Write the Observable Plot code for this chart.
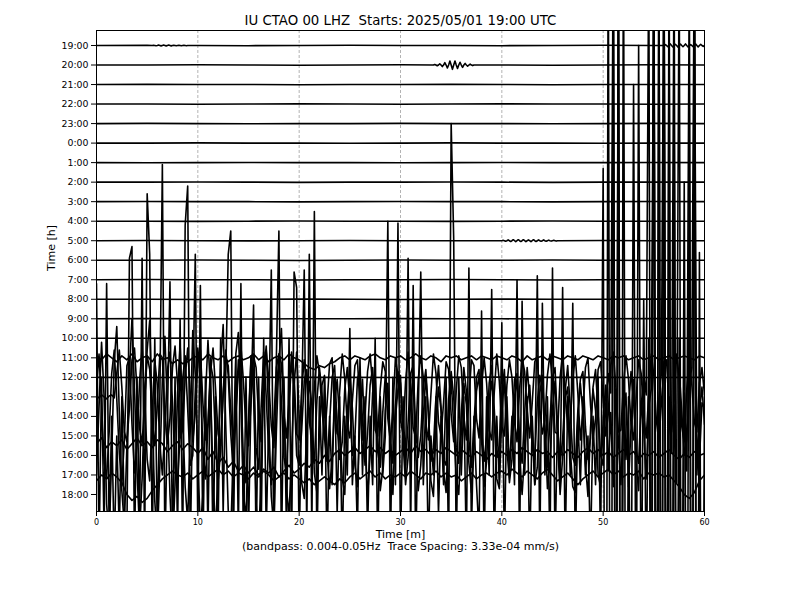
<!DOCTYPE html>
<html><head><meta charset="utf-8">
<script src="https://cdn.jsdelivr.net/npm/d3@7"></script>
<script src="https://cdn.jsdelivr.net/npm/@observablehq/plot@0.6"></script>
<style>body{margin:0;background:#fff}</style>
</head><body><div id="chart"></div>
<script>
// ---- labels ----
const titleText = ["IU CTAO 00 LHZ  Starts: 2025/05/01 19:00 UTC"];
const xLabel = ["Time [m]"];
const yLabel = ["Time [h]"];
const caption = ["(bandpass: 0.004-0.05Hz  Trace Spacing: 3.33e-04 mm/s)"];
const hourLabels = ["19:00","20:00","21:00","22:00","23:00","0:00","1:00","2:00","3:00","4:00","5:00","6:00",
  "7:00","8:00","9:00","10:00","11:00","12:00","13:00","14:00","15:00","16:00","17:00","18:00"];
const minuteTicks = [0,10,20,30,40,50,60];
const gridMinutes = [10,20,30,40,50];

// ---- amplitudes in units of trace spacing (positive = up) ----
// quiet hours, one value every 5 min
const quietHours = ["19:00","20:00","21:00","22:00","23:00","0:00","1:00","2:00","3:00","4:00","5:00","6:00",
  "7:00","8:00","9:00","10:00","12:00"];
const quietValues = [
  [0,.01,0,-.01,0,.01,0,0,-.01,0,.01,0,0],
  [0,0,.01,0,-.01,0,.01,0,0,-.01,0,.01,0],
  [0,.01,0,0,-.01,0,0,.01,0,-.01,0,0,0],
  [0,0,-.01,0,.01,0,-.01,0,.01,0,0,-.01,0],
  [0,.01,0,-.01,0,0,.01,0,0,-.01,0,.01,0],
  [0,0,.01,0,0,-.01,0,.01,0,0,-.01,0,0],
  [0,-.01,0,.01,0,0,-.01,0,.01,0,0,.01,0],
  [0,0,.01,0,-.01,0,0,.01,0,-.01,0,0,0],
  [0,.01,0,0,-.01,0,.01,0,0,-.01,0,.01,0],
  [0,0,-.01,0,.01,0,0,-.01,0,.01,0,0,0],
  [0,.01,0,-.01,0,.01,0,0,-.01,0,.01,0,0],
  [0,0,.01,0,-.01,0,.01,0,0,.01,0,-.01,0],
  [0,.01,0,0,-.01,0,0,.01,0,-.01,0,0,0],
  [0,0,-.01,0,.01,0,-.01,0,.01,0,0,.01,0],
  [0,.01,0,-.01,0,0,.01,0,0,-.01,0,.01,0],
  [0,0,.01,0,0,-.01,0,.01,0,0,-.01,0,0],
  [0,-.01,0,.01,0,0,-.01,0,.01,0,0,-.01,0]
];
// small wavetrains on quiet hours, one value every 0.125 min
const wiggle1900aStart = 5.5;
const wiggle1900a = [0,.015,0,-.015,0,.02,0,-.02,0,.02,0,-.02,0,.02,0,-.02,0,.015,0,-.015,0,.015,0,-.015,0,.01,0,-.01,0];
const wiggle1900bStart = 56;
const wiggle1900b = [0,.05,0,-.06,0,.08,0,-.07,0,.06,0,-.08,0,.07,0,-.06,0,.08,0,-.07,0,.05,0,-.06,0,.08,0,-.07,0,.06,0,-.05,0];
const wiggle2000Start = 33.25;
const wiggle2000 = [0,.03,0,-.04,0,.06,0,-.08,0,.12,0,-.15,0,.2,0,-.22,0,.2,0,-.18,0,.14,0,-.12,0,.08,0,-.06,0,.05,0,-.03,0];
const wiggle0500Start = 40;
const wiggle0500 = [0,.02,0,-.03,0,.04,0,-.04,0,.05,0,-.05,0,.05,0,-.04,0,.05,0,-.05,0,.04,0,-.05,0,.05,0,-.04,0,.04,0,-.03,0,.04,0,-.03,0,.03,0,-.02,0,.02,0,-.02,0];

// active hours, one value every 0.5 min
const trace1100 = [0.1,-0.1,0.2,0,-0.2,0.1,-0.1,0.2,-0.2,0,
  0.1,-0.2,0.2,-0.1,0,-0.3,-0.1,-0.3,-0.2,0,
  0.1,-0.1,0.2,0,-0.1,0.1,-0.2,0,0.1,-0.1,
  0,0.2,-0.1,0.1,-0.2,0,0.1,-0.1,0.2,0,
  -0.1,-0.3,-0.5,-0.6,-0.4,-0.5,-0.3,-0.2,0,0.1,
  -0.1,0.1,0,-0.1,0.1,0.2,0,-0.1,0.1,0,
  0.1,-0.1,0,0.2,0,-0.1,0.1,0,-0.2,0.1,
  0,0.1,-0.1,0,0.1,-0.1,0.1,0,-0.1,0.1,
  0,-0.1,0.1,0,-0.2,0.1,-0.1,0,0.1,-0.1,
  0.1,0,-0.1,0.1,0,-0.1,0.1,0,-0.1,0.1,
  0,-0.1,0.1,0,0.1,-0.1,0,0.1,-0.1,0,
  0.1,-0.1,0,0.1,-0.1,0,0.1,0,-0.1,0.1,
  0];
const trace1600 = [0.6,0.9,0.4,0.7,0.5,0.8,0.3,0.6,0.9,0.5,
  0.7,0.4,0.8,0.6,0.2,0.5,0.7,0.3,0.6,0.4,
  0.1,0.4,-0.2,0.2,-0.4,-0.1,-0.6,-0.3,-0.8,-0.5,
  -0.9,-0.6,-1.0,-0.7,-0.9,-0.6,-1.1,-0.8,-0.5,-0.9,
  -0.7,-0.4,-0.6,-0.2,-0.4,0,-0.3,0.1,0.3,0,
  0.2,0.4,0.1,0.3,0.5,0.2,0.4,0.1,0.3,0,
  0.2,0.4,0.1,0.5,0.2,0.3,0,0.3,0.1,0.4,
  0.2,0,0.3,0.1,-0.1,0.2,0,-0.2,0.1,-0.1,
  0.2,0,0.3,0.1,0.4,0.2,0,0.3,0.1,0.2,
  -0.1,0.2,0,0.3,0.1,-0.1,0.2,0.4,0.1,0.3,
  0,0.2,-0.1,0.1,0.3,0,0.2,-0.2,0.1,0,
  0.2,-0.1,0.1,0.3,0,-0.2,0.1,-0.1,0.2,0,
  0.1];
const trace1700 = [-0.3,0,-0.2,0.1,-0.1,-0.4,-1.0,-1.3,-1.1,-1.4,
  -1.2,-0.8,-0.5,-0.2,0,0.2,0,-0.1,0.1,-0.2,
  0,0.2,-0.1,0.1,0.3,0,0.2,-0.1,0.1,0,
  -0.2,0.1,-0.1,0.2,0,-0.3,-0.1,0.1,-0.2,0,
  -0.2,-0.4,-0.2,-0.5,-0.3,-0.1,-0.3,-0.5,-0.2,-0.4,
  -0.1,0.1,-0.2,0,0.2,-0.1,0.1,-0.2,0,-0.1,
  0.1,-0.1,0.2,0,-0.2,0.1,0,0.2,-0.1,0.1,
  -0.1,0,-0.3,-0.1,0.1,-0.2,0,0.1,-0.1,0.1,
  0.2,0,0.3,0.1,-0.1,0.2,0,-0.2,0.1,0.3,
  0,-0.3,-0.1,0.1,-0.2,-0.5,-0.2,0,0.2,-0.1,
  0.1,0.3,0,0.2,-0.1,0.1,0,0.2,-0.2,0.1,
  0,0.1,-0.1,0,-0.3,-0.6,-1.0,-1.2,-0.9,-0.3,
  0];
// strongest hours, one value every 0.25 min
const trace1300 = [0.05,-0.05,0.1,0, -0.1,0.05,0.1,-0.05, 1.2,2.4,0.5,-1.8, -2.3,-0.6,1.9,2.5, 0.3,-1.6,-2.4,-0.2,
  2.1,1.4,-1.2,-2.5, -0.4,2.2,2.0,-0.9, -2.4,-1.1,1.5,2.6, 0.6,-2.1,-1.7,1.0, 2.5,0.2,-2.3,-0.8,
  1.8,2.4,-0.3,-2.2, -1.4,1.2,2.5,0.4, -1.9,-2.5,0.1,2.0, 1.6,-0.7,-2.4,-1.0, 1.3,2.6,0.8,-1.6,
  -2.5,-0.3,2.1,1.5, -1.1,-2.3,0.6,2.4, 0.9,-1.5,-2.6,0.0, 2.2,1.7,-0.9,-2.1, -0.2,2.3,1.1,-1.9,
  -2.2,0.4,1.9,0.8, -1.3,-2.0,0.5,2.1, 1.2,-0.6,-2.2,-0.4, 1.7,2.0,-0.8,-1.9, 0.3,2.2,0.9,-1.5,
  -2.1,-0.2,1.6,1.9, -0.5,-2.2,-1.0,1.3, 2.2,0.6,-1.7,-2.0, 0.4,1.8,1.3,-1.1, -2.3,-0.7,2.0,1.1,
  -1.2,-1.9,0.8,2.3, 0.2,-1.6,-2.1,0.9, 2.1,1.0,-1.4,-2.2, 0.1,2.2,1.2,-1.3, -2.0,-0.3,1.8,1.4,
  -0.9,-2.3,0.3,2.1, 1.5,-1.0,-2.2,-0.1, 1.9,1.6,-1.1,-2.1, 0.5,2.0,0.7,-1.7, -2.2,0.2,2.2,0.8,
  -1.5,-2.0,0.6,1.9, 1.0,-1.3,-2.3,0.4, 2.0,1.3,-0.7,-2.1, -0.3,1.8,2.1,-0.6, -1.9,-1.2,1.1,2.2,
  0.7,-1.8,-1.9,1.0, 2.2,0.3,-1.6,-1.3, 0.9,2.1,0.2,-2.2, -0.8,1.5,2.0,-0.4, -2.1,-1.1,1.4,1.8,
  -0.2,-2.0,-0.9,1.6, 2.3,0.5,-1.8,-1.7, 0.6,2.1,0.9,-1.4, -2.2,-0.1,1.9,1.2, -1.0,-2.1,0.2,2.2,
  1.1,-1.2,-2.3,-0.3, 1.8,1.9,-0.5,-1.8, -0.2,2.2,1.0,-1.5, -2.3,0.4,2.1,0.6, -1.3,-1.8,0.7,1.5,
  0.1];
const trace1400 = [1.5,3.2,0.6,-2.4, -3.1,-0.8,2.2,3.4, 0.9,-1.9,-3.5,-1.2, 2.6,3.0,-0.4,-2.9, -1.5,1.8,3.5,1.1,
  -2.2,-3.3,0.2,2.9, 1.6,-1.4,-3.0,-0.6, 2.4,3.3,0.7,-2.6, -3.4,-1.0,1.9,3.1, 0.4,-2.5,-2.0,1.3,
  3.5,1.9,-1.7,-3.2, -0.5,2.7,2.0,-1.3, -3.3,-1.8,1.2,3.4, 2.1,-0.9,-2.8,0.1, 2.9,1.4,-2.3,-3.4,
  -0.2,3.1,2.3,-1.6, -2.7,0.5,3.3,1.0, -1.9,-3.5,-0.3,2.5, 3.2,0.8,-2.1,-2.9, 0.6,2.8,1.5,-2.0,
  -2.5,-0.7,1.8,2.4, 0.3,-1.9,-2.4,0.8, 2.5,1.2,-1.1,-2.3, -0.4,2.0,2.6,-0.5, -2.2,-1.3,1.4,2.5,
  0.7,-2.0,-1.1,1.9, 2.4,-0.2,-2.5,-0.9, 1.6,2.5,0.3,-1.8, -2.6,0.2,2.1,1.1, -1.4,-2.4,0.6,2.3,
  1.7,-0.9,-2.5,-0.3, 2.2,2.6,-0.7,-2.1, -1.0,1.5,2.4,0.2, -2.3,-1.6,1.0,2.6, 0.5,-2.2,-2.5,0.9,
  2.3,1.0,-1.6,-2.4, 0.1,2.5,1.3,-1.2, -2.6,-0.4,2.0,2.4, -0.7,-2.3,-1.0,1.7, 2.6,0.4,-2.1,-1.5,
  1.2,2.4,-0.5,-2.5, -0.8,1.9,2.2,-1.3, -2.4,0.1,2.5,0.9, -1.6,-2.2,0.7,2.1, 1.4,-1.0,-2.6,-0.2,
  2.0,2.5,-0.6,-2.3, -1.2,1.3,2.6,0.4, -2.1,-2.5,0.3,1.9, 2.3,-0.5,-2.2,-1.1, 1.5,2.4,0.1,-2.0,
  -2.5,0.6,2.2,1.2, 25,-24,26,-25, 1.8,-2.2,0.4,2.3, 0.8,-1.7,-2.4,0.5, 2.1,1.1,24,-25,
  26,-24,0.9,2.2, 25,-26,1.0,-1.9, 24,-25,2.4,0.3, -2.0,-1.2,1.6,2.5, 25,-24,-2.3,0.7,
  0.4];
const trace1500 = [-2.0,1.5,4.8,2.0, -3.5,-5.2,-1.0,3.8, 5.6,1.2,-2.8,-4.6, -0.5,3.2,6.0,2.4, -1.8,-4.9,-2.2,1.7,
  4.4,5.9,0.8,-3.3, -5.5,-1.6,2.9,5.1, 1.4,-3.0,-5.8,-2.5, 2.2,4.7,1.0,-2.6, -4.4,0.3,5.4,3.1,
  -1.2,-4.8,-3.0,1.9, 4.9,2.3,-2.1,-5.1, -1.4,3.6,5.7,0.6, -3.8,-5.0,-0.7,4.2, 5.3,1.8,-2.9,-4.3,
  0.4,4.0,2.1,-3.4, -5.4,-1.9,3.3,4.6, 0.9,-3.1,-4.7,0.2, 3.9,5.5,1.3,-2.7, -4.1,-0.8,2.6,4.3,
  1.0,-2.4,-3.2,0.5, 2.8,1.6,-1.9,-2.9, 0.2,2.6,3.1,-0.8, -2.7,-1.2,1.7,2.9, 0.6,-2.2,-3.0,1.1,
  3.2,1.4,-1.5,-2.6, 0.8,2.9,-0.4,-3.1, -1.0,2.2,3.0,0.1, -2.8,-1.7,1.3,2.7, -0.6,-3.0,0.9,2.4,
  3.1,-0.3,-2.5,-1.1, 1.8,2.9,-0.9,-2.8, -1.5,1.0,3.0,1.2, -2.3,-3.1,0.4,2.5, 1.3,-1.8,-2.9,0.7,
  2.9,0.5,-2.1,-3.0, 0.2,2.7,1.6,-1.4, -2.9,-0.7,2.3,3.1, -0.2,-2.6,-1.3,1.9, 2.8,0.9,-2.2,-2.7,
  1.1,3.0,-0.6,-2.4, -1.2,2.0,2.9,-1.0, -3.0,-0.9,1.6,2.6, 0.3,-2.5,-1.6,2.2, 3.1,0.6,-2.7,-1.3,
  1.4,2.8,-0.2,-3.0, -1.1,1.9,2.5,-0.7, -2.6,-2.9,0.8,2.7, 1.2,-1.4,-3.1,0.4, 2.4,1.3,-2.0,-2.6,
  0.9,2.6,-1.8,1.2, -2.6,2.4,-0.2,-2.5, 1.0,2.2,-2.6,0.5, 2.9,-1.4,-2.8,1.8, 0.3,-2.2,1.5,2.4,
  24,-26,25,-24, 26,-25,22,-20, 1.6,-2.4,25,-24, 2.2,-1.8,24,-26, 23,-2.0,1.2,2.5,
  0.6];
const trace1800 = [10.8,-3,6,-2, 10.8,-2,4,-3, 3,-2,5,-1, -2,12.1,12.7,-3, 6,-2,12.1,-3,
  15.4,12.3,-3,8, -2,5,16.9,-3, 4,10.9,-3,6, -2,9,-3,13.8, 15.8,-3,5,12.3,
  -2,10.7,-3,6, -2,7,-3,5, -2,8,-1,6, 12.3,13.5,-3,7, -2,10.8,-3,6,
  -2,5,9.7,-3, 6,-2,8,-2, 4,11.5,-3,7, 13.5,-3,6,-2, 8,-3,11.4,10.6,
  -3,5,11.5,-2, 12.3,-2,14.5,-3, 5,1,6,-3, 4,0.5,6,-1, 5,-3,4,1,
  8.5,0.5,3,-2, 7,1,5,-2, 4,0.5,8,-3, 5,1,3,14.0, -3,6,0.5,13.9,
  -3,5,1,12.1, -2,10.7,-3,4, 11.4,0.5,5,-3, 3,1,5,-1, 4,0.5,6,-3,
  19.0,13.1,-3,6, 1,5,-3,11.6, -2,4,0.5,-2, 9.4,-3,5,1, 10.5,-3,4,0.5,
  8.8,-3,5,1, 4,0.5,11.0,-3, 9.9,1,5,-3, 4,0.5,11.2,-3, 9.8,1,5,-3,
  11.6,-3,4,0.5, 10.6,-3,5,1, 9.8,-3,4,0.5, 5,1,3,-3, 4,0.5,6,-3,
  16.7,-30,30,-30, 30,-30,30,-30, 30,-20,5,-10, 21,-10,23,-8, 10,-5,8,-10,
  30,-30,30,-30, 30,-30,30,-25, 19.5,-20,8,-15, 16,-20,19.8,-30, 30,-30,12.4,-20,
  5];

// ---- assemble points (time in minutes, row index) ----
const rowOf = h => hourLabels.indexOf(h);
function samples(hour, start, step, values) {
  return values.map((v, i) => ({hour, row: rowOf(hour), t: start + i * step, v}));
}
function withEvents(base, events) {
  let pts = base;
  for (const [start, step, values] of events) {
    const end = start + step * (values.length - 1);
    pts = pts.filter(p => p.t < start || p.t > end).concat(samples(base[0].hour, start, step, values));
  }
  return pts.sort((a, b) => a.t - b.t);
}
const eventsByHour = {
  "19:00": [[wiggle1900aStart, 0.125, wiggle1900a], [wiggle1900bStart, 0.125, wiggle1900b]],
  "20:00": [[wiggle2000Start, 0.125, wiggle2000]],
  "5:00": [[wiggle0500Start, 0.125, wiggle0500]]
};
let points = [];
quietHours.forEach((h, k) => {
  points = points.concat(withEvents(samples(h, 0, 5, quietValues[k]), eventsByHour[h] || []));
});
points = points.concat(
  samples("11:00", 0, 0.5, trace1100),
  samples("16:00", 0, 0.5, trace1600),
  samples("17:00", 0, 0.5, trace1700),
  samples("13:00", 0, 0.25, trace1300),
  samples("14:00", 0, 0.25, trace1400),
  samples("15:00", 0, 0.25, trace1500),
  samples("18:00", 0, 0.25, trace1800)
);
points.forEach(p => p.y = p.row - p.v);

const rows = hourLabels.map((_, i) => i);
const font = "DejaVu Sans, sans-serif";

const chart = Plot.plot({
  width: 800, height: 600,
  marginTop: 30, marginBottom: 89, marginLeft: 96, marginRight: 96,
  style: {fontFamily: font, color: "black", background: "white", overflow: "visible"},
  x: {domain: [0, 60]},
  y: {domain: [23.871, -0.768]},
  marks: [
    Plot.ruleX(gridMinutes, {x: d => d, stroke: "#a0a0a0", strokeWidth: 0.8, strokeDasharray: "3,2"}),
    Plot.line(points, {x: "t", y: "y", z: "row", stroke: "black", strokeWidth: 1.6, clip: true, curve: "linear"}),
    Plot.frame({stroke: "black", strokeWidth: 1}),
    Plot.axisY(rows, {ticks: rows, tickFormat: i => hourLabels[i], tickSize: 5, tickPadding: 3, fontSize: 9.4, label: null}),
    Plot.axisX({ticks: minuteTicks, tickFormat: d => String(d), tickSize: 5, tickPadding: 3, fontSize: 8, label: null}),
    Plot.text(titleText, {text: d => d, frameAnchor: "top", dy: -6, lineAnchor: "bottom", fontSize: 13.3}),
    Plot.text(xLabel, {text: d => d, frameAnchor: "bottom", dy: 19, lineAnchor: "top", fontSize: 11}),
    Plot.text(caption, {text: d => d, frameAnchor: "bottom", dy: 31, lineAnchor: "top", fontSize: 11}),
    Plot.text(yLabel, {text: d => d, frameAnchor: "left", dx: -45, rotate: -90, fontSize: 11})
  ]
});
document.getElementById("chart").appendChild(chart);
</script></body></html>
